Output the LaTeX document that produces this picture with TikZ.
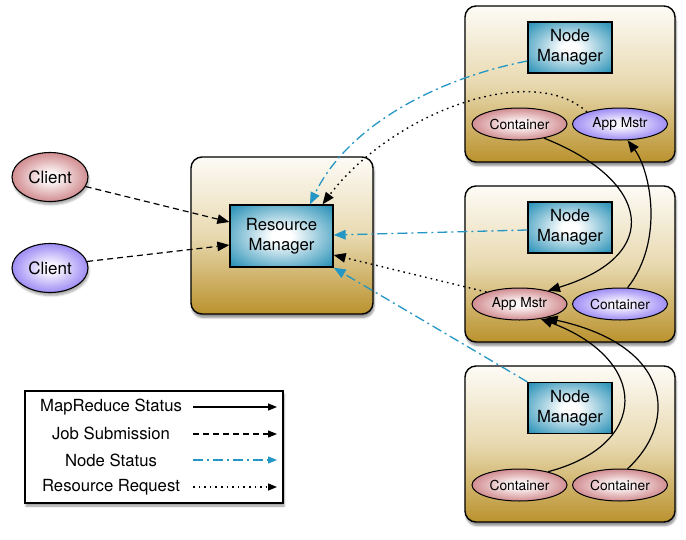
\documentclass[tikz,border=0pt]{standalone}
\usepackage{fontspec}
\setmainfont{TeX Gyre Heros}
\usetikzlibrary{shapes.geometric,shadows.blur,arrows.meta}
\definecolor{boxtop}{RGB}{253,251,246}
\definecolor{boxmid}{RGB}{232,217,176}
\definecolor{boxgold}{RGB}{186,146,46}
\definecolor{mgrblue}{RGB}{28,138,178}
\definecolor{pinkin}{RGB}{253,246,246}
\definecolor{pinkout}{RGB}{186,86,92}
\definecolor{purpin}{RGB}{248,245,255}
\definecolor{purpout}{RGB}{112,86,238}
\definecolor{nsblue}{RGB}{36,150,196}
\pgfdeclareradialshading{mgrshade}{\pgfpoint{0bp}{0bp}}{color(0bp)=(white); color(5bp)=(white); color(20bp)=(mgrblue!50!white); color(36bp)=(mgrblue); color(75bp)=(mgrblue)}
\pgfdeclareradialshading{pinkshade}{\pgfpoint{0bp}{0bp}}{color(0bp)=(pinkin); color(5bp)=(pinkin); color(20bp)=(pinkout!50!pinkin); color(36bp)=(pinkout); color(75bp)=(pinkout)}
\pgfdeclareradialshading{purpshade}{\pgfpoint{0bp}{0bp}}{color(0bp)=(purpin); color(5bp)=(purpin); color(20bp)=(purpout!50!purpin); color(36bp)=(purpout); color(75bp)=(purpout)}
\tikzset{
  outerbox/.style={draw=black, line width=1.4pt, rounded corners=11pt,
    top color=boxtop, bottom color=boxgold, middle color=boxmid,
    blur shadow={shadow xshift=1pt, shadow yshift=-3.5pt, shadow blur steps=6, shadow opacity=45},
    inner sep=0pt},
  mgr/.style={draw=black, line width=1.3pt, shading=mgrshade,
    minimum width=84pt, minimum height=51pt, inner sep=0pt, align=center,
    font=\fontsize{16.7}{20}\selectfont},
  cont/.style={ellipse, draw=black, line width=1pt, minimum width=95pt, minimum height=32pt,
    inner sep=0pt, font=\fontsize{13.8}{16}\selectfont},
  pinkfill/.style={shading=pinkshade},
  purpfill/.style={shading=purpshade},
  client/.style={ellipse, draw=black, line width=1.1pt, minimum width=76pt, minimum height=49pt,
    inner sep=0pt, font=\fontsize{17}{20}\selectfont,
    blur shadow={shadow xshift=1pt, shadow yshift=-3pt, shadow blur steps=5, shadow opacity=35}},
  legtext/.style={font=\fontsize{16.7}{20}\selectfont, inner sep=0pt},
  mr/.style={line width=1.2pt, -{Triangle[length=12pt,width=9.5pt]}},
  job/.style={line width=1.2pt, dash pattern=on 6pt off 4pt, -{Triangle[length=12pt,width=9.5pt]}},
  nstat/.style={line width=1.3pt, draw=nsblue, dash pattern=on 10pt off 4pt on 2pt off 4pt, -{Triangle[length=12pt,width=9.5pt]}},
  rreq/.style={line width=1.4pt, dash pattern=on 1.6pt off 4pt, -{Triangle[length=12pt,width=9.5pt]}},
}
\begin{document}
\begin{tikzpicture}[x=1pt,y=-1pt]
\useasboundingbox (0,0) rectangle (686,539);
% outer boxes
\node[outerbox, minimum width=210pt, minimum height=156pt] (b1) at (570,84) {};
\node[outerbox, minimum width=210pt, minimum height=156pt] (b2) at (570,264) {};
\node[outerbox, minimum width=210pt, minimum height=156pt] (b3) at (570,444) {};
\node[outerbox, minimum width=182pt, minimum height=157pt] (rmb) at (282,235.5) {};
% node managers
\node[mgr] (nm1) at (570,47.5) {Node\\Manager};
\node[mgr] (nm2) at (570,227.5) {Node\\Manager};
\node[mgr] (nm3) at (570,408) {Node\\Manager};
\node[mgr, minimum width=103pt, minimum height=62pt] (rm) at (281.5,236) {Resource\\Manager};
% containers
\node[cont, pinkfill] (c1) at (519.5,124) {Container};
\node[cont, purpfill] (am1) at (620,124) {App Mstr};
\node[cont, pinkfill] (am2) at (519.5,304) {App Mstr};
\node[cont, purpfill] (c2) at (620,304) {Container};
\node[cont, pinkfill] (c3a) at (519.5,485) {Container};
\node[cont, pinkfill] (c3b) at (620,485) {Container};
% clients
\node[client, pinkfill] (cl1) at (50,177) {Client};
\node[client, purpfill] (cl2) at (50,268) {Client};
% legend
\node[draw=black, line width=1.3pt, fill=white, minimum width=258pt, minimum height=112pt, inner sep=0pt,
  blur shadow={shadow xshift=1pt, shadow yshift=-3pt, shadow blur steps=5, shadow opacity=40}] (leg) at (154,447) {};
\node[legtext] (l1) at (111,407) {MapReduce Status};
\node[legtext] (l2) at (111,433.5) {Job Submission};
\node[legtext] (l3) at (111,460) {Node Status};
\node[legtext] (l4) at (111,487) {Resource Request};
\coordinate (a1s) at (193,407); \coordinate (a1e) at (277,407);
\coordinate (a2s) at (193,434); \coordinate (a2e) at (277,434);
\coordinate (a3s) at (193,460); \coordinate (a3e) at (277,460);
\coordinate (a4s) at (193,487); \coordinate (a4e) at (277,487);
\draw[line width=1.2pt, -{Triangle[length=9pt,width=7pt]}] (a1s) -- (a1e);
\draw[line width=1.2pt, dash pattern=on 6pt off 4pt, -{Triangle[length=9pt,width=7pt]}] (a2s) -- (a2e);
\draw[line width=1.3pt, draw=nsblue, dash pattern=on 10pt off 4pt on 2pt off 4pt, -{Triangle[length=9pt,width=7pt]}] (a3s) -- (a3e);
\draw[line width=1.4pt, dash pattern=on 1.6pt off 4pt, -{Triangle[length=9pt,width=7pt]}] (a4s) -- (a4e);
% connectors
\draw[job] (cl1.-15) -- ([yshift=14pt]rm.west);
\draw[job] (cl2.10) -- ([yshift=-9pt]rm.west);
\draw[nstat] ([yshift=-13.5pt]nm1.west) .. controls (430,80) and (345,130) .. ([xshift=28.5pt]rm.north);
\draw[rreq] (am1.160) .. controls (530,60) and (390,115) .. ([xshift=41pt]rm.north);
\draw[nstat] ([yshift=-2.5pt]nm2.west) -- ([yshift=1pt]rm.east);
\draw[rreq] (am2.160) -- ([yshift=-19pt]rm.east);
\draw[nstat] (nm3.north west) -- (rm.south east);
\draw[mr] (c1.-30) .. controls (650,180) and (665,255) .. (am2.25);
\draw[mr] (c2.65) .. controls (665,240) and (650,170) .. (am1.-65);
\draw[mr] (c3a.25) .. controls (650,445) and (650,360) .. (am2.-35);
\draw[mr] (c3b.65) .. controls (680,420) and (670,345) .. (am2.-28);
\end{tikzpicture}
\end{document}
